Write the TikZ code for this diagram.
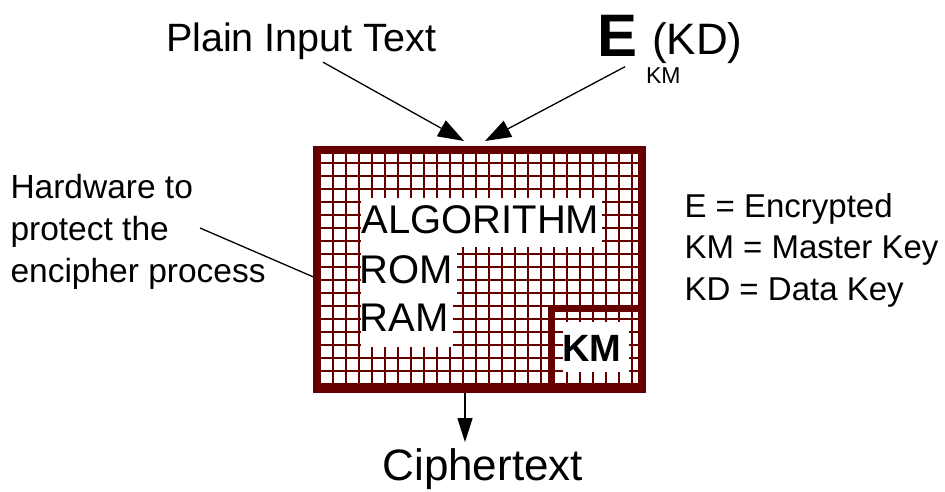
\documentclass[tikz,border=0pt]{standalone}
\usepackage{fontspec}
\setmainfont{Liberation Sans}
\usetikzlibrary{arrows.meta}
\definecolor{maroon}{RGB}{102,0,0}
\newcommand\setfs[1]{\fontsize{#1}{#1}\selectfont}
\begin{document}
\begin{tikzpicture}[x=1pt,y=-1pt,
  txt/.style={anchor=base west, inner sep=0pt, outer sep=0pt},
  gridline/.style={maroon, line width=1.7pt},
  frame/.style={maroon, line width=8pt},
  leader/.style={line width=1.3pt},
  arr/.style={line width=1.3pt, -{Triangle[length=26pt,width=18pt]}},
  arrdown/.style={line width=1.3pt, -{Triangle[length=24pt,width=15pt]}},
]
\useasboundingbox (0,0) rectangle (945,492);

% protective mesh inside the hardware box
\begin{scope}
  \clip (313,146) rectangle (646,393);
  \foreach \i in {0,...,25} \draw[gridline] (319.7+13*\i,146) -- ++(0,247);
  \foreach \j in {0,...,19} \draw[gridline] (313,150+13*\j) -- ++(333,0);
\end{scope}

% cleared areas behind the labels
\fill[white] (361,198) rectangle (602,247);
\fill[white] (361,247) rectangle (457,297);
\fill[white] (361,297) rectangle (453,347);
\fill[white] (563,322) rectangle (629,372);

% hardware box and master-key compartment
\draw[frame] (317,150) rectangle (642,389);
\draw[maroon, line width=6.5pt] (551.7,308.5) rectangle (642,389);

% contents of the box
\node[txt, font=\setfs{40}] (alg) at (361.5,233.3) {ALGORITHM};
\node[txt, font=\setfs{40}] (rom) at (359.5,283.3) {ROM};
\node[txt, font=\setfs{40}] (ram) at (359.5,331.7) {RAM};
\node[txt, font=\setfs{38}\bfseries] (km) at (562,361.7) {KM};

% inputs
\node[txt, font=\setfs{39.5}] (plain) at (166,52) {Plain Input Text};
\node[txt, font=\setfs{60}\bfseries] (ebig) at (597,56.7) {E};
\node[txt, font=\setfs{44}] (kd) at (652,55) {(KD)};
\node[txt, font=\setfs{23}] (kmsub) at (646,83.3) {KM};

% output
\node[txt, font=\setfs{44}] (cipher) at (382.5,480) {Ciphertext};

% side note
\node[txt, font=\setfs{33.5}] (hw1) at (10.5,198) {Hardware to};
\node[txt, font=\setfs{33.5}] (hw2) at (10.5,240) {protect the};
\node[txt, font=\setfs{33.5}] (hw3) at (10.5,282) {encipher process};

% legend
\node[txt, font=\setfs{33}] (lg1) at (684.5,217) {E = Encrypted};
\node[txt, font=\setfs{33}] (lg2) at (684.5,258) {KM = Master Key};
\node[txt, font=\setfs{33}] (lg3) at (684.5,300) {KD = Data Key};

% connectors
\coordinate (tipA) at (464,141);
\coordinate (tipB) at (485,141);
\coordinate (boxbot) at (465,393);
\coordinate (boxwest) at (313.5,277);
\coordinate (ldr) at (200,228);

\draw[arr] ([xshift=22pt,yshift=-2pt]plain.south) -- (tipA);
\draw[arr] ([xshift=-12pt,yshift=-10pt]ebig.south east) -- (tipB);
\draw[arrdown] (boxbot) -- ([yshift=6pt]cipher.north -| boxbot);
\draw[leader] (ldr) -- (boxwest);
\end{tikzpicture}
\end{document}
